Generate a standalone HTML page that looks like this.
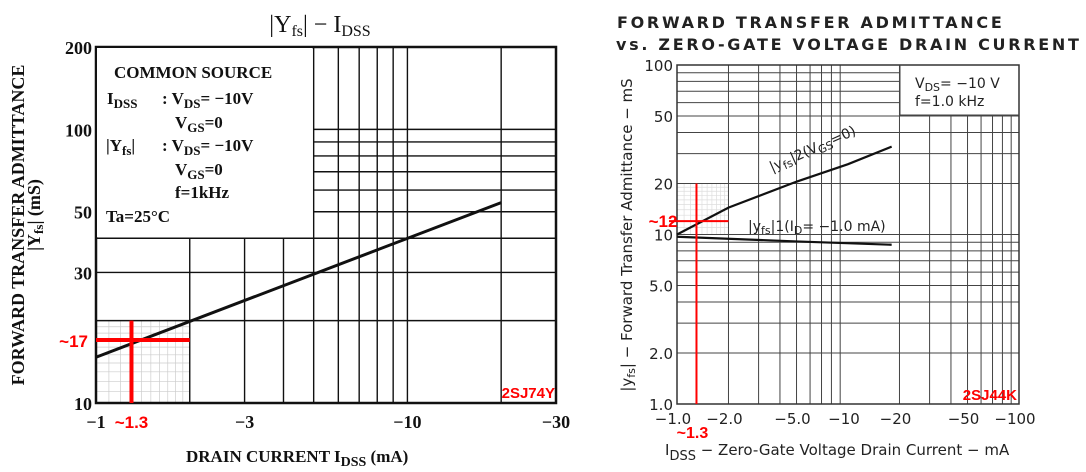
<!DOCTYPE html>
<html><head><meta charset="utf-8">
<style>
html,body{margin:0;padding:0;background:#fff;}
svg{display:block;}
.serif{font-family:"Liberation Serif",serif;font-weight:bold;fill:#111;}
.sans{font-family:"DejaVu Sans","Liberation Sans",sans-serif;fill:#222;}
.red{font-family:"Liberation Sans",sans-serif;font-weight:bold;fill:#f00;}
</style></head>
<body>
<svg id="chart" width="1086" height="472" viewBox="0 0 1086 472">
 <g id="left"></g>
 <g id="right"></g>
</svg>
<script>
// ---- Left chart data (2SJ74Y) ----
const leftXTicks = [1, 3, 10, 30];
const leftXTickLabels = ["\u22121", "\u22123", "\u221210", "\u221230"];
const leftYTicks = [10, 30, 50, 100, 200];
const leftYTickLabels = ["10", "30", "50", "100", "200"];
const leftIdss = [1, 20];
const leftYfs = [14.7, 54];
const leftMarkX = [1.3];
const leftMarkY = [17];
// ---- Right chart data (2SJ44K) ----
const rightXTicks = [1, 2, 5, 10, 20, 50, 100];
const rightXTickLabels = ["\u22121.0", "\u22122.0", "\u22125.0", "\u221210", "\u221220", "\u221250", "\u2212100"];
const rightYTicks = [1, 2, 5, 10, 20, 50, 100];
const rightYTickLabels = ["1.0", "2.0", "5.0", "10", "20", "50", "100"];
const rightIdss2 = [1, 2, 5, 10, 18];
const rightYfs2 = [10, 14.4, 20.5, 26, 33];
const rightIdss1 = [1, 5, 18];
const rightYfs1 = [9.7, 9.1, 8.7];
const rightMarkX = [1.3];
const rightMarkY = [12];

const NS = "http://www.w3.org/2000/svg";
function mk(parent, tag, attrs, text){
  const e = document.createElementNS(NS, tag);
  for (const k in attrs) e.setAttribute(k, attrs[k]);
  if (text !== undefined) e.textContent = text;
  parent.appendChild(e);
  return e;
}
function logScale(d0, d1, r0, r1){
  return v => r0 + (Math.log10(v) - Math.log10(d0)) / (Math.log10(d1) - Math.log10(d0)) * (r1 - r0);
}

// ================= LEFT =================
(function(){
  const g = document.getElementById('left');
  const L=96, R=556, T=47, B=403;
  const x = logScale(1, 30, L, R), y = logScale(10, 200, B, T);
  for (let v=1.1; v<2; v+=0.1){ const l=mk(g,'line',{x1:x(v),x2:x(v),y1:y(20),y2:B,stroke:'#ccc','stroke-width':0.7});
      }
  for (let v=11; v<20; v+=1){ const l=mk(g,'line',{x1:L,x2:x(2),y1:y(v),y2:y(v),stroke:'#ccc','stroke-width':0.7});
      }
  [2,3,4,5,6,7,8,9,10,20].forEach(v=>{
    const top = v>=5 ? T : y(40);
    const l=mk(g,'line',{x1:x(v),x2:x(v),y1:top,y2:B,stroke:'#111','stroke-width':1.4});
     
  });
  [20,30,40,50,60,70,80,90,100].forEach(v=>{
    const left = v>40 ? x(5) : L;
    const l=mk(g,'line',{x1:left,x2:R,y1:y(v),y2:y(v),stroke:'#111','stroke-width':1.4});
     
  });
  const fr=mk(g,'rect',{x:L,y:T,width:R-L,height:B-T,fill:'none',stroke:'#111','stroke-width':2.5});
   
  const pts = leftIdss.map((v,i)=>x(v)+','+y(leftYfs[i])).join(' ');
  const pl=mk(g,'polyline',{points:pts,fill:'none',stroke:'#111','stroke-width':3});
   
  const rh=mk(g,'line',{x1:L,x2:x(2),y1:y(leftMarkY[0]),y2:y(leftMarkY[0]),stroke:'#f00','stroke-width':4});
   
  const rv=mk(g,'line',{x1:x(leftMarkX[0]),x2:x(leftMarkX[0]),y1:y(20),y2:B,stroke:'#f00','stroke-width':4});
   
  leftYTicks.forEach((v,i)=>{ const t=mk(g,'text',{x:L-4,y:y(v)+7,'text-anchor':'end','font-size':18,class:'serif'},leftYTickLabels[i]);
      });
  leftXTicks.forEach((v,i)=>{ const t=mk(g,'text',{x:x(v),y:428,'text-anchor':'middle','font-size':18,class:'serif'},leftXTickLabels[i]);
      });
  const t1=mk(g,'text',{x:L-8,y:y(leftMarkY[0])+7,'text-anchor':'end','font-size':17,class:'red'},'~'+leftMarkY[0]);
   
  const t2=mk(g,'text',{x:x(leftMarkX[0]),y:428,'text-anchor':'middle','font-size':17,class:'red'},'~'+leftMarkX[0]);
   
})();
</script>
<script>
// ================= RIGHT =================
(function(){
  const g = document.getElementById('right');
  const L=677, R=1019, T=65, B=404;
  const x = logScale(1, 100, L, R), y = logScale(1, 100, B, T);
  for (let v=1.1; v<2; v+=0.1){ const l=mk(g,'line',{x1:x(v),x2:x(v),y1:y(20),y2:y(10),stroke:'#ddd','stroke-width':0.7});
      }
  for (let v=11; v<20; v+=1){ const l=mk(g,'line',{x1:L,x2:x(2),y1:y(v),y2:y(v),stroke:'#ddd','stroke-width':0.7});
      }
  const vals=[];
  [1,10].forEach(d=>{for(let k=2;k<=9;k++) vals.push(k*d);});
  vals.forEach(v=>{
    const top = v>20 ? y(50) : T;
    const l=mk(g,'line',{x1:x(v),x2:x(v),y1:top,y2:B,stroke:'#444','stroke-width':1});
     
  });
  vals.forEach(v=>{
    const right = v>50 ? x(20) : R;
    const l=mk(g,'line',{x1:L,x2:right,y1:y(v),y2:y(v),stroke:'#444','stroke-width':1});
     
  });
  const l10=mk(g,'line',{x1:L,x2:R,y1:y(10),y2:y(10),stroke:'#444','stroke-width':1});
   
  const fr=mk(g,'rect',{x:L,y:T,width:R-L,height:B-T,fill:'none',stroke:'#333','stroke-width':1.5});
   
  const s2=mk(g,'polyline',{points:rightIdss2.map((v,i)=>x(v)+','+y(rightYfs2[i])).join(' '),fill:'none',stroke:'#111','stroke-width':2.2});
   
  const s1=mk(g,'polyline',{points:rightIdss1.map((v,i)=>x(v)+','+y(rightYfs1[i])).join(' '),fill:'none',stroke:'#111','stroke-width':2.2});
   
  const rh=mk(g,'line',{x1:L-8,x2:x(2),y1:y(rightMarkY[0]),y2:y(rightMarkY[0]),stroke:'#f00','stroke-width':2});
   
  const rv=mk(g,'line',{x1:x(rightMarkX[0]),x2:x(rightMarkX[0]),y1:y(20),y2:B,stroke:'#f00','stroke-width':2});
   
  rightYTicks.forEach((v,i)=>{ const t=mk(g,'text',{x:L-4,y:y(v)+6,'text-anchor':'end','font-size':15,class:'sans'},rightYTickLabels[i]);
      });
  rightXTicks.forEach((v,i)=>{ const t=mk(g,'text',{x:x(v)-4,y:424,'text-anchor':'middle','font-size':15,class:'sans'},rightXTickLabels[i]);
      });
  const t1=mk(g,'text',{x:L-14,y:y(rightMarkY[0])+6,'text-anchor':'middle','font-size':17,class:'red'},'~'+rightMarkY[0]);
   
  const t2=mk(g,'text',{x:x(rightMarkX[0])-4,y:438,'text-anchor':'middle','font-size':16,class:'red'},'~'+rightMarkX[0]);
   
})();
</script>
<svg width="1086" height="472" style="position:absolute;left:0;top:0">
 <rect x="97" y="48" width="215" height="189" fill="#fff"/>
 <g class="serif" font-size="17">
  <text x="114" y="78">COMMON SOURCE</text>
  <text x="107" y="104">I<tspan font-size="13" dy="4">DSS</tspan><tspan dy="-4" x="162">: V</tspan><tspan font-size="13" dy="4">DS</tspan><tspan dy="-4">= −10V</tspan></text>
  <text x="175" y="128">V<tspan font-size="13" dy="4">GS</tspan><tspan dy="-4">=0</tspan></text>
  <text x="106" y="151">|Y<tspan font-size="13" dy="4">fs</tspan><tspan dy="-4">|</tspan><tspan x="162">: V</tspan><tspan font-size="13" dy="4">DS</tspan><tspan dy="-4">= −10V</tspan></text>
  <text x="175" y="175">V<tspan font-size="13" dy="4">GS</tspan><tspan dy="-4">=0</tspan></text>
  <text x="175" y="198">f=1kHz</text>
  <text x="106" y="222">Ta=25°C</text>
 </g>
 <text x="320" y="32" text-anchor="middle" font-size="24" class="serif" style="font-weight:normal">|Y<tspan font-size="16" dy="4">fs</tspan><tspan dy="-4">|  −  I</tspan><tspan font-size="16" dy="4">DSS</tspan></text>
 <text transform="translate(24,225) rotate(-90)" text-anchor="middle" font-size="18" class="serif">FORWARD TRANSFER ADMITTANCE</text>
 <text transform="translate(40,215) rotate(-90)" text-anchor="middle" font-size="18" class="serif">|Y<tspan font-size="13" dy="3">fs</tspan><tspan dy="-3">|   (mS)</tspan></text>
 <text x="186" y="462" font-size="17" class="serif">DRAIN CURRENT  I<tspan font-size="14" dy="4">DSS</tspan><tspan dy="-4">   (mA)</tspan></text>
 <text x="555" y="398" text-anchor="end" font-size="15" class="red">2SJ74Y</text>
 <rect x="900" y="66" width="118" height="49" fill="#fff"/>
 <line x1="900" y1="65" x2="900" y2="115" stroke="#444" stroke-width="1"/>
 <line x1="900" y1="115" x2="1019" y2="115" stroke="#444" stroke-width="1"/>
 <text x="915" y="88" font-size="14" class="sans">V<tspan font-size="11" dy="3">DS</tspan><tspan dy="-3">= −10  V</tspan></text>
 <text x="915" y="106" font-size="14" class="sans">f=1.0  kHz</text>
 <text x="617" y="28" font-size="16" class="sans" style="font-weight:bold;letter-spacing:2.7px">FORWARD TRANSFER ADMITTANCE</text>
 <text x="616" y="50" font-size="16" class="sans" style="font-weight:bold;letter-spacing:2.7px">vs. ZERO-GATE VOLTAGE DRAIN CURRENT</text>
 <text transform="translate(632,235) rotate(-90)" text-anchor="middle" font-size="15" class="sans">|y<tspan font-size="11" dy="3">fs</tspan><tspan dy="-3">| − Forward  Transfer  Admittance − mS</tspan></text>
 <text x="665" y="455" font-size="15" class="sans">I<tspan font-size="13" dy="5">DSS</tspan><tspan dy="-5"> − Zero-Gate  Voltage  Drain  Current − mA</tspan></text>
 <text transform="translate(772,172) rotate(-24)" font-size="14" class="sans">|y<tspan font-size="11" dy="3">fs</tspan><tspan dy="-3">|2(V</tspan><tspan font-size="11" dy="3">GS</tspan><tspan dy="-3">=0)</tspan></text>
 <text x="748" y="231" font-size="14" class="sans">|y<tspan font-size="11" dy="3">fs</tspan><tspan dy="-3">|1(I</tspan><tspan font-size="11" dy="3">D</tspan><tspan dy="-3">= −1.0  mA)</tspan></text>
 <text x="1017" y="400" text-anchor="end" font-size="15" class="red">2SJ44K</text>
</svg>
</body></html>
